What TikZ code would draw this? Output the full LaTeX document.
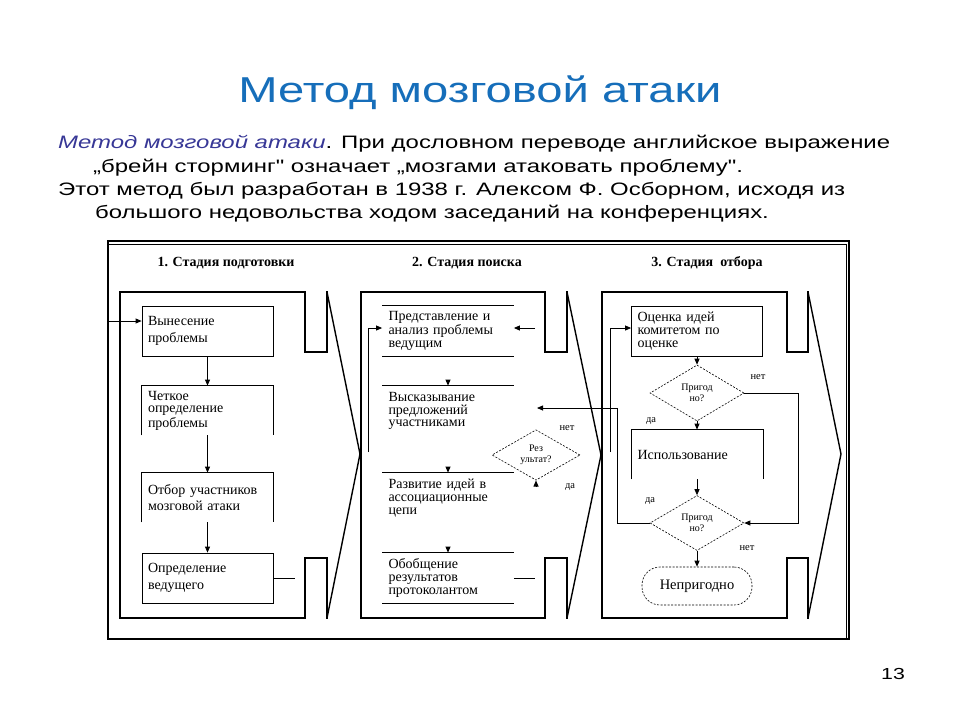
\documentclass[tikz,border=0pt]{standalone}
\usepackage{fontspec}
\setmainfont{Liberation Serif}
\newfontfamily\sansw[FakeStretch=1.33]{Liberation Sans}
\newfontfamily\sanst[FakeStretch=1.31]{Liberation Sans}
\usetikzlibrary{shapes.geometric,arrows.meta}
\definecolor{titleblue}{RGB}{22,110,186}
\definecolor{italblue}{RGB}{55,55,150}
\begin{document}
\begin{tikzpicture}[x=1pt,y=-1pt,
  every node/.style={inner sep=0pt},
  frame/.style={line width=2.8pt, line join=miter, line cap=rect},
  slant/.style={line width=1.4pt},
  ln/.style={line width=0.8pt},
  arr/.style={line width=0.8pt, -{Triangle[length=6pt,width=5pt]}},
  bxtwo/.style={ln, minimum width=131pt, minimum height=50pt, text width=119pt, inner xsep=6pt, align=left, font=\fontsize{14}{16.5}\selectfont},
  bxthree/.style={ln, minimum width=131pt, minimum height=50pt, text width=119pt, inner xsep=6pt, align=left, font=\fontsize{14}{12.8}\selectfont},
  dia/.style={draw, diamond, dash pattern=on 2pt off 1.5pt, line width=0.6pt, minimum width=94pt, minimum height=56pt, align=center, font=\fontsize{10}{10.5}\selectfont},
  term/.style={draw, dash pattern=on 2pt off 1.5pt, line width=0.6pt, rounded corners=18pt, minimum width=110pt, minimum height=38pt, font=\fontsize{14.5}{14.5}\selectfont},
  lbl/.style={font=\fontsize{10.5}{10.5}\selectfont},
  head/.style={anchor=base, font=\bfseries\fontsize{14}{14}\selectfont},
  body/.style={anchor=base west, font=\sansw\fontsize{18}{18}\selectfont}
]
\useasboundingbox (0,0) rectangle (960,720);

% title and text
\node[anchor=base, font=\sanst\fontsize{36}{36}\selectfont, text=titleblue] (title) at (480,102) {Метод мозговой атаки};
\node[body] (p1) at (58,148) {{\color{italblue}\itshape Метод мозговой атаки}. При дословном переводе английское выражение};
\node[body] (p2) at (93,172) {„брейн сторминг" означает „мозгами атаковать проблему".};
\node[body] (p3) at (58,195) {Этот метод был разработан в 1938 г. Алексом Ф. Осборном, исходя из};
\node[body] (p4) at (95,218) {большого недовольства ходом заседаний на конференциях.};
\node[anchor=base, font=\sansw\fontsize{16}{16}\selectfont] (pg) at (893,679) {13};

% outer frame
\draw[line width=1.5pt] (108,241) rectangle (849,639);
\draw[line width=0.7pt] (108,244.5) -- (846,244.5) -- (846,639);

% headings
\node[head] (h1) at (226,266) {1. Стадия подготовки};
\node[head] (h2) at (467,266) {2. Стадия поиска};
\node[head] (h3) at (707,266) {3. Стадия\ \ отбора};

% stage frames
\coordinate (t1) at (360,454);
\coordinate (t2) at (601,455);
\coordinate (t3) at (841,454);
\draw[frame] (327,292) -- (327,352) -- (305,352) -- (305,292) -- (120,292) -- (120,618) -- (305,618) -- (305,558) -- (327,558) -- (327,618);
\draw[slant] (327,292) -- (t1) -- (327,618);
\draw[frame] (567,292) -- (567,352) -- (545,352) -- (545,292) -- (361,292) -- (361,618) -- (545,618) -- (545,558) -- (567,558) -- (567,618);
\draw[slant] (567,292) -- (t2) -- (567,618);
\draw[frame] (808,292) -- (808,352) -- (787,352) -- (787,292) -- (602,292) -- (602,618) -- (787,618) -- (787,558) -- (808,558) -- (808,618);
\draw[slant] (808,292) -- (t3) -- (808,618);

% stage 1
\coordinate (in1) at (108,321);
\node[bxtwo, draw] (s1b1) at (207.5,331) {Вынесение\\проблемы};
\node[bxthree, minimum height=49pt] (s1b2) at (207.5,410.5) {Четкое\\определение\\проблемы};
\node[bxtwo, minimum height=49pt] (s1b3) at (207.5,497.5) {Отбор участников\\мозговой атаки};
\node[bxtwo, draw] (s1b4) at (207.5,578) {Определение\\ведущего};
\draw[ln] (s1b2.south west) -- (s1b2.north west) -- (s1b2.north east) -- (s1b2.south east);
\draw[ln] (s1b3.south west) -- (s1b3.north west) -- (s1b3.north east) -- (s1b3.south east);
\draw[arr] (in1) -- (in1 -| s1b1.west);
\draw[arr] (s1b1.south) -- (s1b2.north);
\draw[arr] (s1b2.south) -- (s1b3.north);
\draw[arr] (s1b3.south) -- (s1b4.north);
\coordinate (o1) at (295,578);
\draw[ln] (s1b4.east) -- (o1);

% stage 2
\node[bxthree] (s2a) at (448,331) {Представление и\\анализ проблемы\\ведущим};
\node[bxthree] (s2b) at (448,411) {Высказывание\\предложений\\участниками};
\node[bxthree] (s2c) at (448,498) {Развитие идей в\\ассоциационные\\цепи};
\node[bxthree] (s2d) at (448,578) {Обобщение\\результатов\\протоколантом};
\draw[ln] (s2a.north west) -- (s2a.north east);
\draw[ln] (s2a.south west) -- (s2a.south east);
\draw[ln] (s2b.north west) -- (s2b.north east);
\draw[ln] (s2c.north west) -- (s2c.north east);
\draw[ln] (s2d.north west) -- (s2d.north east);
\draw[ln] (s2d.south west) -- (s2d.south east);
\draw[arr, shorten <=24pt] (s2a.south) -- (s2b.north);
\draw[arr, shorten <=31pt] (s2b.south) -- (s2c.north);
\draw[arr, shorten <=24pt] (s2c.south) -- (s2d.north);
\coordinate (l2) at (368,452);
\draw[arr] (l2) |- ([yshift=3pt]s2a.west);
\coordinate (r2) at (535,328);
\draw[arr] (r2) -- (r2 -| s2a.east);
\node[dia, minimum width=88pt, minimum height=50pt] (d2) at (536,455) {Рез\\ультат?};
\node[lbl] (n2) at (567,428) {нет};
\node[lbl] (y2) at (570,487) {да};
\coordinate (u2) at (536,487);
\draw[arr] (u2) -- (d2.south);
\coordinate (o2) at (535,578);
\draw[ln] (s2d.east) -- (o2);

% stage 3
\node[bxthree, draw] (s3a) at (697,331) {Оценка идей\\комитетом по\\оценке};
\node[dia] (q1) at (697,393) {Пригод\\но?};
\node[bxtwo, minimum height=49pt] (s3b) at (697,454.5) {Использование};
\draw[ln] (s3b.south west) -- (s3b.north west) -- (s3b.north east) -- (s3b.south east);
\node[dia, minimum height=55pt] (q2) at (697,523) {Пригод\\но?};
\node[term] (s3c) at (697,586) {Непригодно};
\coordinate (l3) at (610,452);
\draw[arr] (l3) |- ([yshift=3pt]s3a.west);
\draw[arr] (s3a.south) -- (q1.north);
\draw[arr] (q1.south) -- (s3b.north);
\draw[arr] (s3b.south) -- (q2.north);
\draw[arr] (q2.south) -- (s3c.north);
\coordinate (c3) at (798,460);
\draw[arr] (q1.east) -| (c3) |- (q2.east);
\coordinate (k3) at (617,460);
\coordinate (a2) at (537,408);
\draw[arr] (q2.west) -| (k3) |- (a2);
\node[lbl] (n31) at (758,377) {нет};
\node[lbl] (y31) at (651,421) {да};
\node[lbl] (y32) at (650,501) {да};
\node[lbl] (n32) at (747,548) {нет};
\end{tikzpicture}
\end{document}
